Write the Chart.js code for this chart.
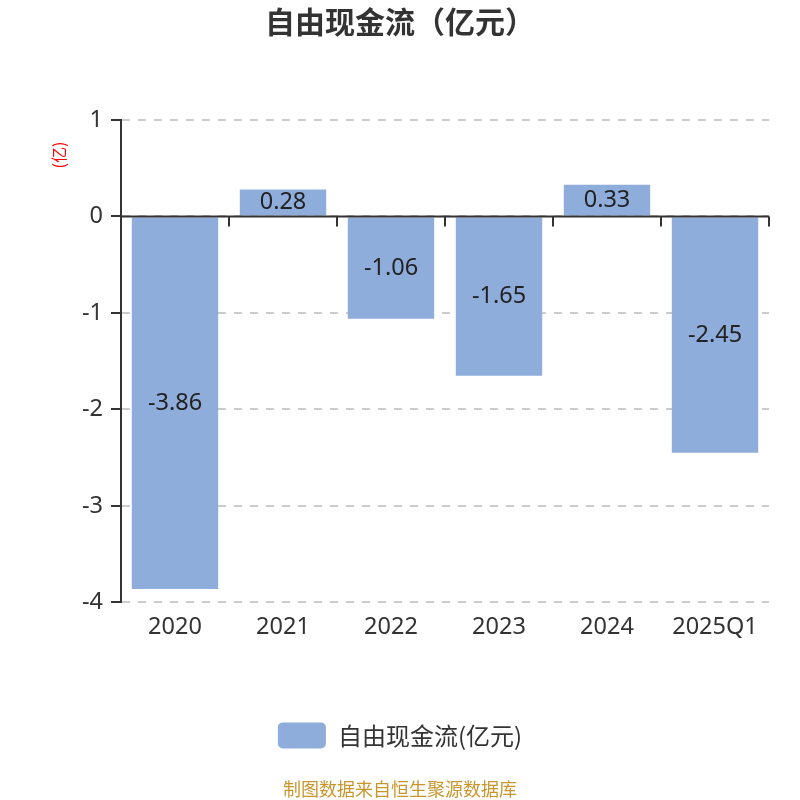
<!DOCTYPE html>
<html>
<head>
<meta charset="utf-8">
<script src="https://cdn.jsdelivr.net/npm/chart.js@4"></script>
<style>
  html, body { margin: 0; padding: 0; background: #fff; }
  #wrap { width: 800px; height: 800px; }
</style>
</head>
<body>
<div id="wrap"><canvas id="c" width="800" height="800"></canvas></div>
<script>
// Free cash flow by period, in 亿元
const categories = ['2020', '2021', '2022', '2023', '2024', '2025Q1'];
const freeCashFlow = [-3.86, 0.28, -1.06, -1.65, 0.33, -2.45];
const yTicks = [1, 0, -1, -2, -3, -4];

const FONT = '"Noto Sans", "Noto Sans CJK SC", sans-serif';
const CJK = '"Noto Sans CJK SC", "Noto Sans", sans-serif';
const TEXT = '#333333';
const BAR = 'rgb(142,173,219)';

// Value labels in the middle of each bar
const valueLabels = {
  id: 'valueLabels',
  afterDatasetsDraw(chart) {
    const ctx = chart.ctx;
    const meta = chart.getDatasetMeta(0);
    ctx.save();
    ctx.font = '23.5px ' + FONT;
    ctx.fillStyle = '#222222';
    ctx.textAlign = 'center';
    ctx.textBaseline = 'middle';
    meta.data.forEach((bar, i) => {
      const v = chart.data.datasets[0].data[i];
      ctx.fillText(String(v), bar.x, (bar.y + bar.base) / 2);
    });
    ctx.restore();
  }
};

// Category axis line at zero, with boundary ticks pointing down
const zeroAxis = {
  id: 'zeroAxis',
  afterDatasetsDraw(chart) {
    const ctx = chart.ctx;
    const x = chart.scales.x;
    const y0 = chart.scales.y.getPixelForValue(0);
    const area = chart.chartArea;
    ctx.save();
    ctx.strokeStyle = TEXT;
    ctx.lineWidth = 2;
    ctx.beginPath();
    ctx.moveTo(area.left, y0);
    ctx.lineTo(area.right, y0);
    const step = (area.right - area.left) / categories.length;
    for (let i = 0; i <= categories.length; i++) {
      const px = Math.round(x.getPixelForValue(i) - step / 2);
      ctx.moveTo(px, y0);
      ctx.lineTo(px, y0 + 10);
    }
    ctx.stroke();
    ctx.restore();
  }
};

// Unit note beside the value axis
const unitNote = {
  id: 'unitNote',
  afterDraw(chart) {
    const ctx = chart.ctx;
    const area = chart.chartArea;
    ctx.save();
    ctx.translate(area.left - 62, area.top + 35);
    ctx.rotate(-Math.PI / 2);
    ctx.font = '16px ' + CJK;
    ctx.fillStyle = '#ff0000';
    ctx.textAlign = 'center';
    ctx.textBaseline = 'middle';
    ctx.fillText('(亿)', 0, 0);
    ctx.restore();
  }
};

new Chart(document.getElementById('c'), {
  type: 'bar',
  data: {
    labels: categories,
    datasets: [{
      label: '自由现金流(亿元)',
      data: freeCashFlow,
      backgroundColor: BAR,
      borderWidth: 0,
      barPercentage: 0.8,
      categoryPercentage: 1.0
    }]
  },
  options: {
    responsive: false,
    animation: false,
    devicePixelRatio: 1,
    layout: { padding: { left: 31, right: 31, top: 0, bottom: 0 } },
    plugins: {
      title: {
        display: true,
        text: '自由现金流（亿元）',
        color: TEXT,
        font: { family: CJK, size: 30, weight: 'bold', lineHeight: 1.2 },
        padding: { top: 4, bottom: 80 }
      },
      subtitle: {
        display: true,
        position: 'bottom',
        text: '制图数据来自恒生聚源数据库',
        color: '#c8962d',
        font: { family: CJK, size: 18, lineHeight: 1.2 },
        padding: { top: 20, bottom: 0 }
      },
      legend: {
        display: true,
        position: 'bottom',
        labels: {
          color: TEXT,
          font: { family: CJK, size: 24 },
          boxWidth: 48,
          boxHeight: 26,
          useBorderRadius: true,
          borderRadius: 5,
          padding: 10
        }
      },
      tooltip: { enabled: false }
    },
    scales: {
      x: {
        type: 'category',
        offset: true,
        grid: { display: false, drawTicks: false },
        border: { display: false },
        ticks: {
          color: TEXT,
          font: { family: FONT, size: 23.5 },
          padding: 11,
          maxRotation: 0
        },
        afterFit(scale) { scale.height = 110; }
      },
      y: {
        min: -4,
        max: 1,
        afterBuildTicks(scale) {
          scale.ticks = yTicks.map(v => ({ value: v }));
        },
        grid: {
          color: '#cccccc',
          lineWidth: 2,
          drawTicks: true,
          tickLength: 10,
          tickColor: TEXT,
          tickWidth: 2
        },
        border: { display: true, color: TEXT, width: 2, dash: [8, 8] },
        ticks: {
          color: TEXT,
          font: { family: FONT, size: 23.5 },
          padding: 8
        },
        afterFit(scale) { scale.width = 90; }
      }
    }
  },
  plugins: [valueLabels, zeroAxis, unitNote]
});
</script>
</body>
</html>
